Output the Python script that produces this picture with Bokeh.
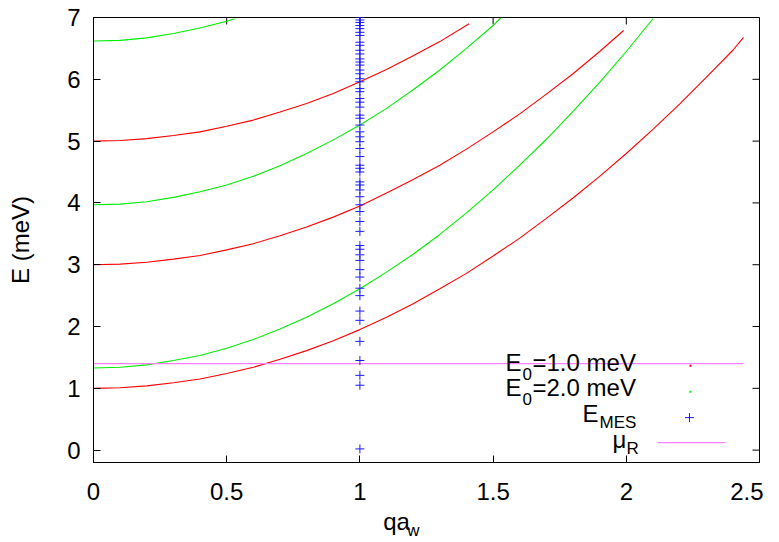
from bokeh.plotting import figure
from bokeh.models import Range1d, FixedTicker, Label, LinearAxis
from bokeh.embed import file_html
from bokeh.resources import INLINE

# ---- data ----
q_red1 = [0, 0.1, 0.2, 0.3, 0.4, 0.5, 0.6, 0.7, 0.8, 0.9, 1.0, 1.1, 1.2, 1.3,
          1.4, 1.5, 1.6, 1.7, 1.8, 1.9, 2.0, 2.1, 2.2, 2.3, 2.4, 2.44]
e_red1 = [1.00, 1.01, 1.04, 1.09, 1.15, 1.24, 1.34, 1.47, 1.61, 1.77, 1.95, 2.15,
          2.37, 2.61, 2.86, 3.14, 3.43, 3.75, 4.08, 4.43, 4.80, 5.19, 5.60, 6.03,
          6.47, 6.68]
q_red2 = [0, 0.1, 0.2, 0.3, 0.4, 0.5, 0.6, 0.7, 0.8, 0.9, 1.0, 1.1, 1.2, 1.3,
          1.4, 1.5, 1.6, 1.7, 1.8, 1.9, 1.99]
e_red2 = [3.00, 3.01, 3.04, 3.09, 3.15, 3.24, 3.34, 3.47, 3.61, 3.77, 3.95, 4.16,
          4.38, 4.61, 4.87, 5.15, 5.44, 5.76, 6.09, 6.45, 6.79]
q_red3 = [0, 0.1, 0.2, 0.3, 0.4, 0.5, 0.6, 0.7, 0.8, 0.9, 1.0, 1.1, 1.2, 1.3, 1.41]
e_red3 = [5.00, 5.01, 5.04, 5.09, 5.15, 5.24, 5.34, 5.47, 5.61, 5.77, 5.96, 6.16,
          6.38, 6.61, 6.90]

q_grn1 = [0, 0.1, 0.2, 0.3, 0.4, 0.5, 0.6, 0.7, 0.8, 0.9, 1.0, 1.1, 1.2, 1.3,
          1.4, 1.5, 1.6, 1.7, 1.8, 1.9, 2.0, 2.1]
e_grn1 = [1.33, 1.34, 1.38, 1.45, 1.53, 1.65, 1.79, 1.96, 2.15, 2.37, 2.61, 2.88,
          3.17, 3.49, 3.84, 4.21, 4.61, 5.03, 5.48, 5.95, 6.45, 6.98]
q_grn2 = [0, 0.1, 0.2, 0.3, 0.4, 0.5, 0.6, 0.7, 0.8, 0.9, 1.0, 1.1, 1.2, 1.3,
          1.4, 1.5, 1.53]
e_grn2 = [3.97, 3.98, 4.02, 4.09, 4.18, 4.29, 4.43, 4.60, 4.80, 5.02, 5.26, 5.53,
          5.83, 6.15, 6.50, 6.87, 7.00]
q_grn3 = [0, 0.1, 0.2, 0.3, 0.4, 0.5, 0.53]
e_grn3 = [6.62, 6.63, 6.67, 6.74, 6.83, 6.94, 6.98]

e_mes = [7.00, 6.96, 6.92, 6.87, 6.82, 6.76, 6.71, 6.60, 6.55, 6.47, 6.41, 6.33,
         6.28, 6.23, 6.15, 6.09, 6.01, 5.96, 5.85, 5.80, 5.69, 5.63, 5.55, 5.42,
         5.37, 5.26, 5.15, 5.07, 4.99, 4.88, 4.75, 4.61, 4.56, 4.50, 4.34, 4.29,
         4.21, 4.10, 3.97, 3.86, 3.70, 3.54, 3.31, 3.25, 3.16, 3.07, 2.92, 2.80,
         2.62, 2.50, 2.25, 2.10, 1.76, 1.45, 1.21, 1.05, 0.02]
q_mes = [1.0] * len(e_mes)

mu_R = 1.40
mu_q = [0.0, 2.44]

x_ticks = [0, 0.5, 1, 1.5, 2, 2.5]
y_ticks = [0, 1, 2, 3, 4, 5, 6, 7]

X_MIN, X_MAX = 0.0, 2.5
Y_MIN, Y_MAX = -0.2, 7.0

RED = "#ff0000"
GREEN = "#00ee00"
BLUE = "#1a1aff"
MAGENTA = "#ff80ff"
FONT = "Liberation Sans"

# picture-pixel -> data helpers (frame spans x 93..759, y 17..463)
FX0, FX1, FY0, FY1 = 93, 759, 17, 463
W, H = 763, 542


def px(x):
    return X_MIN + (x - FX0) / (FX1 - FX0) * (X_MAX - X_MIN)


def py(y):
    return Y_MIN + (FY1 - y) / (FY1 - FY0) * (Y_MAX - Y_MIN)


p = figure(width=W, height=H, output_backend="svg", toolbar_location=None,
           x_range=Range1d(X_MIN, X_MAX), y_range=Range1d(Y_MIN, Y_MAX),
           min_border_left=FX0, min_border_right=W - FX1, min_border_top=FY0,
           min_border_bottom=H - FY1)
p.grid.visible = False
p.outline_line_color = "black"
p.outline_line_width = 1
p.background_fill_color = "white"
p.border_fill_color = "white"

for ax in (p.xaxis[0], p.yaxis[0]):
    ax.major_tick_in = 7
    ax.major_tick_out = 0
    ax.minor_tick_line_color = None
    ax.major_label_text_font = FONT
    ax.major_label_text_font_size = "24px"
    ax.major_label_text_color = "black"
    ax.axis_line_color = "black"
    ax.major_tick_line_color = "black"

p.xaxis[0].ticker = FixedTicker(ticks=x_ticks)
p.yaxis[0].ticker = FixedTicker(ticks=y_ticks)
p.xaxis[0].major_label_standoff = 20
p.yaxis[0].major_label_standoff = 13
p.yaxis[0].axis_label = "E (meV)"
p.yaxis[0].axis_label_text_font = FONT
p.yaxis[0].axis_label_text_font_size = "24px"
p.yaxis[0].axis_label_text_font_style = "normal"
p.yaxis[0].axis_label_text_color = "black"
p.yaxis[0].axis_label_standoff = 30

# x axis title "qa" with subscript "w", written as bare label-only axes below
# (the subscript axis comes first; the "qa" axis is pulled back up beside it)
for text, cx, size, standoff in (("w", 413, "17px", 18), ("qa", 396, "24px", -35)):
    tx = round(px(cx), 4)
    a = LinearAxis(ticker=FixedTicker(ticks=[tx]), major_label_overrides={tx: text},
                   axis_line_color=None, major_tick_line_color=None,
                   minor_tick_line_color=None, major_tick_in=0, major_tick_out=0,
                   major_label_standoff=standoff, major_label_text_font=FONT,
                   major_label_text_font_size=size, major_label_text_color="black")
    p.add_layout(a, "below")

# mirrored inward ticks on top and right edges
tick_dy = 7 / (FY1 - FY0) * (Y_MAX - Y_MIN)
tick_dx = 7 / (FX1 - FX0) * (X_MAX - X_MIN)
p.segment(x0=x_ticks, y0=[Y_MAX] * len(x_ticks), x1=x_ticks,
          y1=[Y_MAX - tick_dy] * len(x_ticks), line_color="black", line_width=1)
p.segment(x0=[X_MAX] * len(y_ticks), y0=y_ticks, x1=[X_MAX - tick_dx] * len(y_ticks),
          y1=y_ticks, line_color="black", line_width=1)

# curves
for q, e in ((q_red1, e_red1), (q_red2, e_red2), (q_red3, e_red3)):
    p.line(q, e, line_color=RED, line_width=1.1)
for q, e in ((q_grn1, e_grn1), (q_grn2, e_grn2), (q_grn3, e_grn3)):
    p.line(q, e, line_color=GREEN, line_width=1.1)
p.line(mu_q, [mu_R, mu_R], line_color=MAGENTA, line_width=1.2)
p.scatter(q_mes, e_mes, marker="cross", size=9, line_color=BLUE, line_width=1)


# ---- legend (manual, gnuplot style) ----
def lab(x, y, text, size="24px", align="left"):
    p.add_layout(Label(x=px(x), y=py(y), text=text, text_font=FONT,
                       text_font_size=size, text_align=align,
                       text_baseline="middle", text_color="black"))


# row 1: E_0=1.0 meV
lab(505, 363, "E")
lab(522, 374, "0", size="17px")
lab(532, 363, "=1.0 meV")
# row 2: E_0=2.0 meV
lab(505, 388, "E")
lab(522, 399, "0", size="17px")
lab(532, 388, "=2.0 meV")
# row 3: E_MES
lab(582, 414, "E")
lab(599, 423, "MES", size="17px")
# row 4: mu_R
lab(612, 440, "μ")
lab(626, 449, "R", size="17px")

p.scatter([px(690)], [py(366)], marker="square", size=2, fill_color=RED, line_color=None)
p.scatter([px(690)], [py(392)], marker="square", size=2, fill_color=GREEN, line_color=None)
p.scatter([px(689)], [py(418)], marker="cross", size=9, line_color=BLUE, line_width=1)
p.line([px(657), px(725)], [py(443), py(443)], line_color=MAGENTA, line_width=1.2)

open("out.html", "w").write(file_html(p, INLINE))
